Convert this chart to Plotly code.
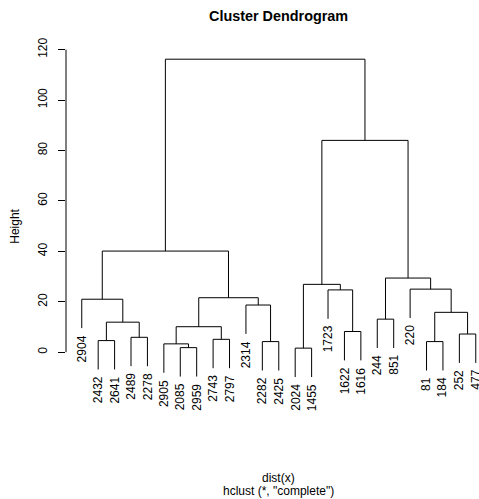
import plotly.graph_objects as go

# leaf labels in display order (leaf index 1..25)
labels = ["2904", "2432", "2641", "2489", "2278", "2905", "2085", "2959", "2743",
          "2797", "2314", "2282", "2425", "2024", "1455", "1723", "1622", "1616",
          "244", "851", "220", "81", "184", "252", "477"]
# merge table (R hclust style: negative = leaf index, positive = earlier merge step)
merge_left = [-14, -7, -6, -12, -22, -2, -9, -4, -24, -17, 3, 6, -19, 5, -11, -1, 11,
              -16, -21, 1, 13, 16, 20, 22]
merge_right = [-15, -8, 2, -13, -23, -3, -10, -5, -25, -18, 7, 8, -20, 9, 4, 12, 15,
               10, 14, 18, 19, 17, 21, 23]
merge_height = [1.6, 1.8, 3.3, 4.2, 4.2, 4.6, 5.1, 5.9, 7.2, 8.2, 10.1, 11.9, 13.1,
                15.8, 18.7, 21.0, 21.6, 24.7, 25.0, 26.9, 29.4, 40.1, 84.0, 116.2]
y_ticks = [0, 20, 40, 60, 80, 100, 120]

hang = 0.1 * (max(merge_height) - min(merge_height))

node_x = {}
xs, ys = [], []
leaf_ends = {}
for i, (a, b, h) in enumerate(zip(merge_left, merge_right, merge_height), start=1):
    pts = []
    for c in (a, b):
        if c < 0:
            cx = -c
            cy = h - hang
            leaf_ends[-c] = cy
        else:
            cx = node_x[c]
            cy = merge_height[c - 1]
        pts.append((cx, cy))
    (x1, y1), (x2, y2) = pts
    xs += [x1, x1, x2, x2, None]
    ys += [y1, h, h, y2, None]
    node_x[i] = (x1 + x2) / 2

# pixel geometry
W, H = 479, 499
T, B = 36.7, 390.2          # plot area top / bottom px
y_lo, y_hi = -15, 125
L = 66
x_lo, x_hi = 0.04, 25.196

def py(px):
    return (B - px) / (B - T)

fig = go.Figure()
fig.add_trace(go.Scatter(x=xs, y=ys, mode="lines",
                         line=dict(color="black", width=1),
                         hoverinfo="skip", showlegend=False))

font = dict(family="Liberation Sans, Arial, sans-serif", size=12, color="black")

annotations = []
for idx, lab in enumerate(labels, start=1):
    annotations.append(dict(x=idx, y=leaf_ends[idx], xref="x", yref="y",
                            text=lab, textangle=-90, showarrow=False,
                            xanchor="center", yanchor="top", yshift=-6,
                            borderpad=0, font=font))
annotations.append(dict(x=13, y=py(15.5), xref="x", yref="paper",
                        text="<b>Cluster Dendrogram</b>", showarrow=False,
                        xanchor="center", yanchor="middle", borderpad=0,
                        font=dict(family=font["family"], size=14.4, color="black")))
annotations.append(dict(x=13, y=py(478.8), xref="x", yref="paper",
                        text="dist(x)", showarrow=False, borderpad=0,
                        xanchor="center", yanchor="middle", font=font))
annotations.append(dict(x=13, y=py(491.4), xref="x", yref="paper",
                        text='hclust (*, "complete")', showarrow=False, borderpad=0,
                        xanchor="center", yanchor="middle", font=font))
annotations.append(dict(x=(15 - L) / (W - L), y=py(226.7), xref="paper", yref="paper",
                        text="Height", textangle=-90, showarrow=False,
                        xanchor="center", yanchor="middle", font=font))

fig.update_layout(
    width=W, height=H,
    margin=dict(l=L, r=0, t=T, b=H - B, pad=0),
    paper_bgcolor="white", plot_bgcolor="white",
    hovermode=False,
    xaxis=dict(range=[x_lo, x_hi], visible=False, fixedrange=True),
    yaxis=dict(range=[y_lo, y_hi], tickvals=y_ticks, ticktext=[str(v) for v in y_ticks],
               ticks="outside", ticklen=7, tickwidth=1, tickcolor="black",
               tickangle=-90, ticklabelstandoff=6, showgrid=False, zeroline=False,
               showline=False, tickfont=font, fixedrange=True),
    shapes=[dict(type="line", xref="paper", yref="y", x0=0, x1=0, y0=0, y1=120,
                 line=dict(color="black", width=1))],
    annotations=annotations,
)

fig.write_html("out.html",
               config={"displayModeBar": False, "staticPlot": True},
               post_script="document.body.style.margin='0';"
                           "document.body.style.overflow='hidden';")
